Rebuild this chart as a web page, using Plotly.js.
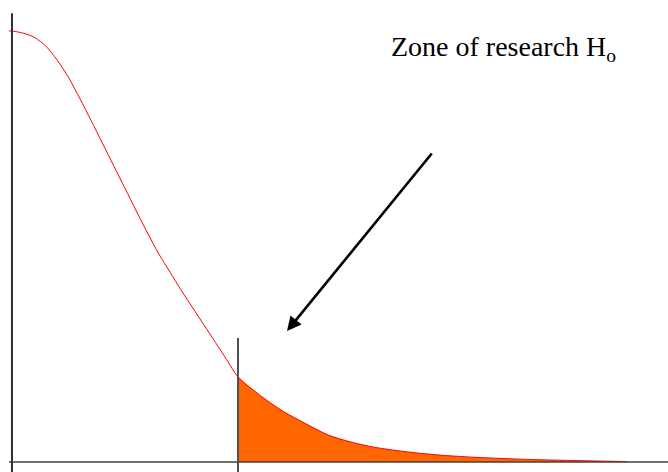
<!DOCTYPE html>
<html>
<head>
<meta charset="utf-8">
<script src="https://cdn.plot.ly/plotly-3.0.1.min.js"></script>
<style>html,body{margin:0;padding:0;background:#fff;}#chart{width:668px;height:472px;}</style>
</head>
<body>
<div id="chart"></div>
<script>
// Test statistic (z) and density values
const zValues = [-0.027, 0, 0.1, 0.2, 0.3, 0.4, 0.5, 0.6, 0.7, 0.8, 0.9, 1.0, 1.1, 1.2, 1.3, 1.4, 1.5, 1.6, 1.7, 1.8, 1.9, 2.0, 2.2, 2.4, 2.6, 2.8, 3.0, 3.2, 3.4, 3.6, 3.8, 4.0, 4.3, 4.6, 4.9, 5.2, 5.44];
const density = [0.400, 0.400, 0.398, 0.394, 0.386, 0.373, 0.357, 0.3375, 0.317, 0.296, 0.275, 0.254, 0.233, 0.2125, 0.193, 0.176, 0.159, 0.143, 0.127, 0.111, 0.095, 0.079, 0.0615, 0.047, 0.0355, 0.025, 0.0185, 0.0138, 0.0107, 0.0082, 0.0063, 0.0049, 0.0034, 0.0023, 0.0015, 0.0009, 0.0004];
const criticalValue = 2.0;
const annotationLabel = 'Zone of research H<sub>o</sub>';

const tailX = [], tailY = [];
zValues.forEach((z, i) => { if (z >= criticalValue) { tailX.push(z); tailY.push(density[i]); } });

const traces = [
  {x: tailX, y: tailY, type: 'scatter', mode: 'lines', fill: 'tozeroy',
   fillcolor: '#FF6600', line: {width: 0, color: '#FF6600', shape: 'spline', smoothing: 0.8}, hoverinfo: 'skip'},
  {x: zValues, y: density, type: 'scatter', mode: 'lines',
   line: {color: '#FF0000', width: 1, shape: 'spline', smoothing: 0.8}, hoverinfo: 'skip'}
];

const layout = {
  width: 668, height: 472,
  margin: {l: 0, r: 0, t: 0, b: 0},
  paper_bgcolor: '#ffffff', plot_bgcolor: '#ffffff',
  showlegend: false,
  xaxis: {visible: false, range: [-0.106, 5.805], fixedrange: true},
  yaxis: {visible: false, range: [-0.00928, 0.4288], fixedrange: true},
  shapes: [
    {type: 'line', xref: 'paper', yref: 'y', x0: 0.0135, x1: 1, y0: 0, y1: 0, line: {color: '#404040', width: 1.5}},
    {type: 'line', xref: 'x', yref: 'paper', x0: 0, x1: 0, y0: 0, y1: 0.972, line: {color: '#303030', width: 2}},
    {type: 'line', xref: 'x', yref: 'paper', x0: criticalValue, x1: criticalValue, y0: 0, y1: 0.284, line: {color: '#505050', width: 2}}
  ],
  annotations: [
    {xref: 'paper', yref: 'paper', x: 389/668, y: (472 - 49) / 472, xanchor: 'left', yanchor: 'middle',
     text: annotationLabel, showarrow: false,
     font: {family: 'Liberation Serif, Times New Roman, serif', size: 28, color: '#000000'}},
    {xref: 'paper', yref: 'paper', x: 287/668, y: (472 - 331) / 472, text: '', showarrow: true,
     ax: 146, ay: -179, arrowhead: 2, arrowsize: 1.1, arrowwidth: 2.6, arrowcolor: '#000000'}
  ]
};

Plotly.newPlot('chart', traces, layout, {displayModeBar: false, staticPlot: true});
</script>
</body>
</html>
